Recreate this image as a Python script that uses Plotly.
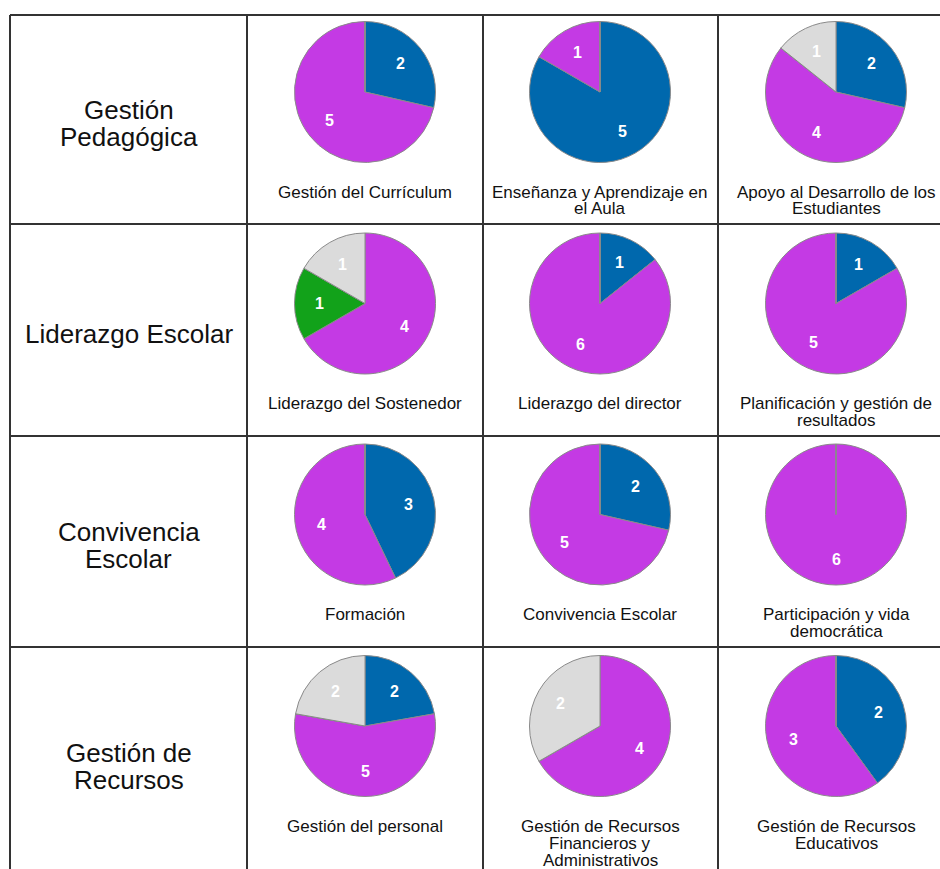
import math
import plotly.graph_objects as go

# ---- data ----
row_labels = [["Gestión", "Pedagógica"], ["Liderazgo Escolar"], ["Convivencia", "Escolar"], ["Gestión de", "Recursos"]]
categories = [
    ["Gestión del Currículum"], ["Enseñanza y Aprendizaje en", "el Aula"], ["Apoyo al Desarrollo de los", "Estudiantes"],
    ["Liderazgo del Sostenedor"], ["Liderazgo del director"], ["Planificación y gestión de", "resultados"],
    ["Formación"], ["Convivencia Escolar"], ["Participación y vida", "democrática"],
    ["Gestión del personal"], ["Gestión de Recursos", "Financieros y", "Administrativos"], ["Gestión de Recursos", "Educativos"],
]
series_names = ["Azul", "Morado", "Verde", "Gris"]
blue_vals =    [2, 5, 2, 0, 1, 1, 3, 2, 0, 2, 0, 2]
magenta_vals = [5, 1, 4, 4, 6, 5, 4, 5, 6, 5, 4, 3]
green_vals =   [0, 0, 0, 1, 0, 0, 0, 0, 0, 0, 0, 0]
gray_vals =    [0, 0, 1, 1, 0, 0, 0, 0, 0, 2, 2, 0]

# ---- styles / layout ----
colors = ["#0068AD", "#C43AE4", "#12A21A", "#DBDBDB"]
W, H = 940, 869
col_cx = [365, 600, 836]
row_cy = [92, 303.5, 514.5, 726]
R = 70.5
v_lines = [10, 247, 483, 718]
h_lines = [15, 224, 436, 647]
FONT = "Liberation Sans, Arial, sans-serif"

def px(x):
    return x / W

def py(y):
    return 1 - y / H

fig = go.Figure()
annotations = []

series = [blue_vals, magenta_vals, green_vals, gray_vals]
for i in range(12):
    r, c = divmod(i, 3)
    cx, cy = col_cx[c], row_cy[r]
    vals = [s[i] for s in series]
    fig.add_trace(go.Pie(
        values=vals,
        labels=series_names,
        marker=dict(colors=colors, line=dict(color="#8a8a8a", width=1)),
        sort=False, direction="clockwise", rotation=0,
        textinfo="none", hoverinfo="label+value", showlegend=False,
        domain=dict(x=[px(cx - R), px(cx + R)], y=[py(cy + R), py(cy - R)]),
    ))
    # value labels placed along each slice's mid-angle
    total = sum(vals)
    acc = 0
    for k, v in enumerate(vals):
        if v <= 0:
            continue
        mid = (acc + v / 2) / total * 2 * math.pi
        acc += v
        lx = cx + 0.64 * R * math.sin(mid)
        ly = cy - 0.64 * R * math.cos(mid)
        annotations.append(dict(
            x=px(lx), y=py(ly), xref="paper", yref="paper", text=str(v), showarrow=False,
            font=dict(family=FONT, size=16, color="white", weight="bold"),
            xanchor="center", yanchor="middle"))
    # category label lines
    for j, line in enumerate(categories[i]):
        annotations.append(dict(
            x=px(cx), y=py(cy + 100 + 17 * j), xref="paper", yref="paper", text=line, showarrow=False,
            font=dict(family=FONT, size=17, color="#111"), xanchor="center", yanchor="middle"))

# row labels
for r, lines in enumerate(row_labels):
    mid_y = (h_lines[r] + (h_lines[r + 1] if r + 1 < len(h_lines) else 877)) / 2 + 4
    n = len(lines)
    for j, line in enumerate(lines):
        annotations.append(dict(
            x=px((v_lines[0] + v_lines[1]) / 2), y=py(mid_y + (j - (n - 1) / 2) * 27),
            xref="paper", yref="paper", text=line, showarrow=False,
            font=dict(family=FONT, size=26, color="#111"), xanchor="center", yanchor="middle"))

shapes = []
for x in v_lines:
    shapes.append(dict(type="line", xref="paper", yref="paper", x0=px(x), x1=px(x), y0=py(h_lines[0]), y1=0,
                       line=dict(color="#333", width=2)))
for y in h_lines:
    shapes.append(dict(type="line", xref="paper", yref="paper", x0=px(v_lines[0]), x1=1, y0=py(y), y1=py(y),
                       line=dict(color="#333", width=2)))

fig.update_layout(
    width=W, height=H, autosize=False,
    margin=dict(l=0, r=0, t=0, b=0),
    paper_bgcolor="white", plot_bgcolor="white",
    annotations=annotations, shapes=shapes,
)
fig.write_html("out.html", config={"displayModeBar": False},
               post_script="document.body.style.margin='0';document.body.style.overflow='hidden';")
